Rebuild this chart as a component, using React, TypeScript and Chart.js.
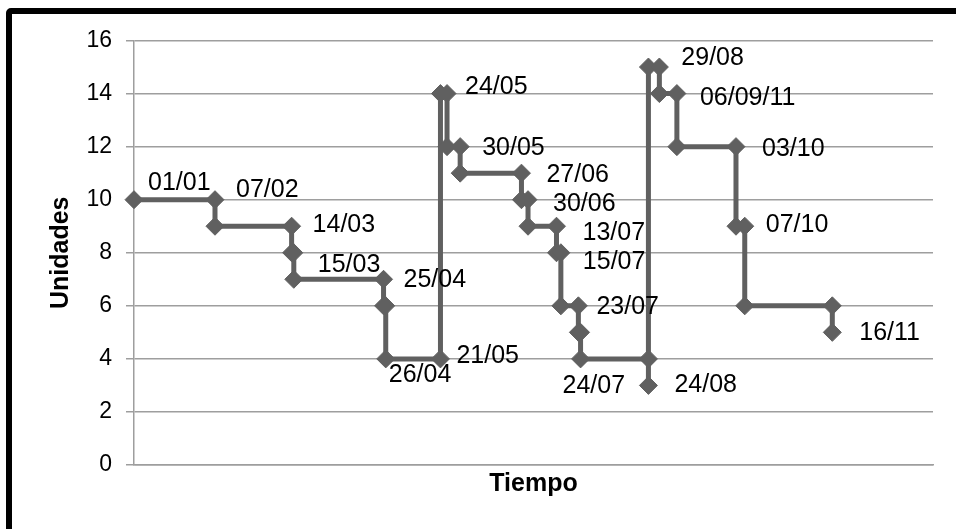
import { useEffect, useRef } from "react";
import { Chart, registerables } from "chart.js";

Chart.register(...registerables);

// ---- data ----
const YEAR = 2011;
const axisStart = "01/01/2011";
const axisEnd = "01/01/2012";

const dates = [
  "01/01", "07/02", "07/02", "14/03", "14/03", "15/03", "15/03", "25/04", "25/04", "26/04",
  "26/04", "21/05", "21/05", "24/05", "24/05", "30/05", "30/05", "27/06", "27/06", "30/06",
  "30/06", "13/07", "13/07", "15/07", "15/07", "23/07", "23/07", "24/07", "24/07", "24/08",
  "24/08", "24/08", "29/08", "29/08", "06/09", "06/09", "03/10", "03/10", "07/10", "07/10",
  "16/11", "16/11",
];

const values = [
  10, 10, 9, 9, 8, 8, 7, 7, 6, 6,
  4, 4, 14, 14, 12, 12, 11, 11, 10, 10,
  9, 9, 8, 8, 6, 6, 5, 5, 4, 4,
  3, 15, 15, 14, 14, 12, 12, 9, 9, 6,
  6, 5,
];

const pointLabels = [
  "01/01", "07/02", "", "14/03", "", "", "15/03", "25/04", "", "",
  "26/04", "21/05", "", "24/05", "", "30/05", "", "27/06", "", "30/06",
  "", "13/07", "", "15/07", "", "23/07", "", "", "24/07", "",
  "24/08", "", "29/08", "", "06/09/11", "", "03/10", "", "07/10", "",
  "", "16/11",
];

const yMin = 0;
const yMax = 16;
const yStep = 2;
const xTitle = "Tiempo";
const yTitle = "Unidades";

// ---- helpers ----
function dayIndex(s: string): number {
  const parts = s.split("/").map(Number);
  const d = parts[0];
  const m = parts[1];
  const y = parts.length > 2 ? parts[2] : YEAR;
  const base = Date.UTC(YEAR, 0, 1);
  return Math.round((Date.UTC(y, m - 1, d) - base) / 86400000);
}

// label placement (offsets in px from the point)
const labelOffsets: Record<number, [number, number]> = {
  0: [14, -17],
  1: [21, -10],
  3: [21, -1],
  6: [24, -14],
  7: [20, 1],
  10: [3, 16],
  11: [16, -3],
  13: [18, -6],
  15: [22, 1],
  17: [25, 2],
  19: [25, 4],
  21: [26, 7],
  23: [22, 9],
  25: [18, 1],
  28: [-18, 27],
  30: [26, 0],
  32: [22, -9],
  34: [23, 5],
  36: [26, 2],
  38: [21, -1],
  41: [27, 1],
};

const FONT = "'Liberation Sans', Arial, sans-serif";
const SERIES_COLOR = "#606060";
const GRID_COLOR = "#9e9e9e";

const labelPlugin = {
  id: "pointTextLabels",
  afterDatasetsDraw(chart: any) {
    const meta = chart.getDatasetMeta(0);
    const ctx = chart.ctx;
    ctx.save();
    ctx.font = `25px ${FONT}`;
    ctx.fillStyle = "#000";
    ctx.textAlign = "left";
    ctx.textBaseline = "middle";
    meta.data.forEach((el: any, i: number) => {
      const txt = pointLabels[i];
      if (!txt) return;
      const off = labelOffsets[i] || [20, 0];
      ctx.fillText(txt, el.x + off[0], el.y + off[1]);
    });
    ctx.restore();
  },
};

export default function App() {
  const canvasRef = useRef<HTMLCanvasElement | null>(null);

  useEffect(() => {
    if (!canvasRef.current) return;
    const points = dates.map((d, i) => ({ x: dayIndex(d), y: values[i] }));
    const chart = new Chart(canvasRef.current, {
      type: "scatter",
      data: {
        datasets: [
          {
            data: points,
            showLine: true,
            borderColor: SERIES_COLOR,
            borderWidth: 5,
            borderJoinStyle: "miter",
            borderCapStyle: "butt",
            pointStyle: "rectRot",
            pointRadius: 9,
            pointBorderWidth: 1,
            pointBackgroundColor: SERIES_COLOR,
            pointBorderColor: SERIES_COLOR,
            clip: false,
          } as any,
        ],
      },
      options: {
        animation: false,
        responsive: false,
        devicePixelRatio: 1,
        layout: { padding: { left: 0, right: 23, top: 40.5, bottom: 0 } },
        plugins: {
          legend: { display: false },
          tooltip: { enabled: false },
        },
        scales: {
          x: {
            type: "linear",
            min: dayIndex(axisStart),
            max: dayIndex(axisEnd),
            ticks: { display: false },
            grid: { display: false, drawTicks: false },
            border: { display: true, color: GRID_COLOR, width: 1.5 },
            title: {
              display: true,
              text: xTitle,
              color: "#000",
              font: { family: FONT, size: 25, weight: "bold" },
              padding: { top: 0, bottom: 30 },
            },
            afterFit: (scale: any) => {
              scale.height = 64;
            },
          },
          y: {
            type: "linear",
            min: yMin,
            max: yMax,
            ticks: {
              stepSize: yStep,
              color: "#000",
              font: { family: FONT, size: 23 },
              padding: 14,
            },
            grid: {
              color: GRID_COLOR,
              lineWidth: 1.5,
              drawTicks: true,
              tickLength: 8,
              tickColor: GRID_COLOR,
            },
            border: { display: true, color: GRID_COLOR, width: 1.5 },
            title: {
              display: true,
              text: yTitle,
              color: "#000",
              font: { family: FONT, size: 25, weight: "bold" },
              padding: { top: 46, bottom: 0 },
            },
            afterFit: (scale: any) => {
              scale.width = 134;
            },
          },
        },
      } as any,
      plugins: [labelPlugin],
    });
    return () => chart.destroy();
  }, []);

  return (
    <div
      style={{
        position: "fixed",
        left: 0,
        top: 0,
        width: 956,
        height: 529,
        overflow: "hidden",
        background: "#fff",
      }}
    >
      <div
        style={{
          position: "absolute",
          left: 6,
          top: 8,
          width: 1100,
          height: 700,
          border: "6px solid #000",
          borderRadius: 5,
          boxSizing: "border-box",
        }}
      />
      <canvas
        ref={canvasRef}
        width={956}
        height={529}
        style={{ position: "absolute", left: 0, top: 0, width: 956, height: 529 }}
      />
    </div>
  );
}
